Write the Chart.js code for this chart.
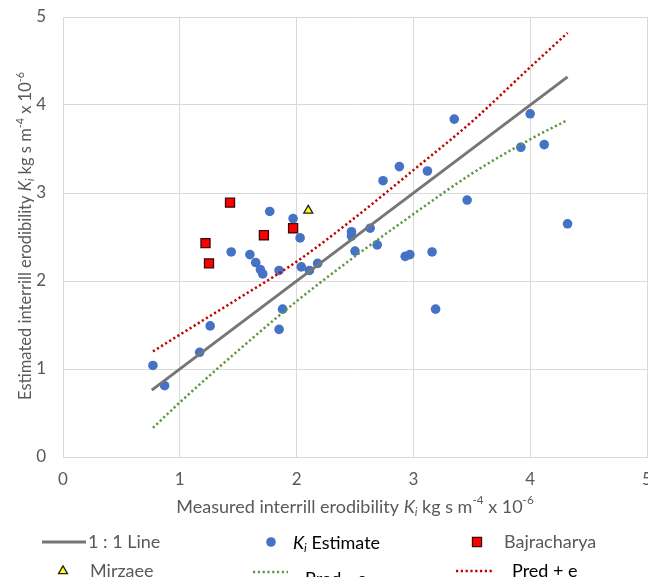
<!DOCTYPE html>
<html>
<head>
<meta charset="utf-8">
<script src="https://cdn.jsdelivr.net/npm/chart.js@4.4.1/dist/chart.umd.min.js"></script>
<style>
  html, body { margin: 0; padding: 0; background: #fff; }
  .wrap { width: 648px; height: 577px; overflow: hidden; }
</style>
</head>
<body>
<div class="wrap"><canvas id="chart" width="700" height="577"></canvas></div>
<script>
// tick labels on both axes
var tickValues = [0, 1, 2, 3, 4, 5];

// Ki estimate: measured (x) vs estimated (y)
var kiMeasured = [0.77, 0.87, 1.17, 1.26, 1.44, 1.60, 1.65, 1.69, 1.71, 1.77, 1.85, 1.85, 1.88,
  1.97, 2.03, 2.04, 2.11, 2.18, 2.47, 2.47, 2.50, 2.63, 2.69, 2.74, 2.88, 2.93, 2.97, 3.12,
  3.16, 3.19, 3.35, 3.46, 3.92, 4.00, 4.12, 4.32];
var kiEstimated = [1.04, 0.81, 1.19, 1.49, 2.33, 2.30, 2.21, 2.13, 2.08, 2.79, 2.12, 1.45, 1.68,
  2.71, 2.49, 2.16, 2.12, 2.20, 2.56, 2.51, 2.34, 2.60, 2.41, 3.14, 3.30, 2.28, 2.30, 3.25,
  2.33, 1.68, 3.84, 2.92, 3.52, 3.90, 3.55, 2.65];

var bajMeasured = [1.22, 1.25, 1.43, 1.72, 1.97];
var bajEstimated = [2.43, 2.20, 2.89, 2.52, 2.60];

var mirMeasured = [2.10];
var mirEstimated = [2.80];

var lineX = [0.76, 4.32];
var lineY = [0.76, 4.32];

var predX = [0.77, 1.0, 1.5, 2.0, 2.5, 3.0, 3.5, 4.0, 4.32];
var predMinus = [0.33, 0.62, 1.21, 1.77, 2.28, 2.76, 3.22, 3.61, 3.83];
var predPlus = [1.20, 1.39, 1.80, 2.22, 2.72, 3.26, 3.81, 4.43, 4.82];

var FONT = "Lato, 'Open Sans', sans-serif";
var GREY = "#595959";

function pts(xs, ys) {
  return xs.map(function (x, i) { return { x: x, y: ys[i] }; });
}

// draws text made of pieces (italic / subscript / superscript)
function richWidth(ctx, parts, size) {
  var w = 0;
  parts.forEach(function (p) {
    var s = (p.sub || p.sup) ? size * 0.65 : size;
    ctx.font = (p.italic ? "italic " : "") + s + "px " + FONT;
    w += ctx.measureText(p.t).width;
  });
  return w;
}
function drawRich(ctx, parts, x, y, size, color, align) {
  var w = richWidth(ctx, parts, size);
  var cx = align === "center" ? x - w / 2 : x;
  ctx.textBaseline = "middle";
  ctx.textAlign = "left";
  parts.forEach(function (p) {
    var s = (p.sub || p.sup) ? size * 0.65 : size;
    var dy = p.sub ? size * 0.3 : (p.sup ? -size * 0.35 : 0);
    ctx.font = (p.italic ? "italic " : "") + s + "px " + FONT;
    ctx.fillStyle = p.color || color;
    ctx.fillText(p.t, cx, y + dy);
    cx += ctx.measureText(p.t).width;
  });
}

var xTitle = [{ t: "Measured interrill erodibility " }, { t: "K", italic: true }, { t: "i", italic: true, sub: true },
  { t: " kg s m" }, { t: "-4", sup: true }, { t: " x 10" }, { t: "-6", sup: true }];
var yTitle = [{ t: "Estimated interrill erodibility " }, { t: "K", italic: true }, { t: "i", italic: true, sub: true },
  { t: " kg s m" }, { t: "-4", sup: true }, { t: " x 10" }, { t: "-6", sup: true }];

var titlesPlugin = {
  id: "titles",
  afterDraw: function (chart) {
    var ctx = chart.ctx, a = chart.chartArea;
    ctx.save();
    drawRich(ctx, xTitle, (a.left + a.right) / 2, 507, 18, GREY, "center");
    ctx.translate(26, 236);
    ctx.rotate(-Math.PI / 2);
    drawRich(ctx, yTitle, 0, 0, 16.5, GREY, "center");
    ctx.restore();
  }
};

function drawMarker(ctx, ds, x, y) {
  var r = ds.pointRadius;
  ctx.fillStyle = ds.backgroundColor;
  ctx.strokeStyle = ds.borderColor;
  ctx.lineWidth = ds.borderWidth;
  ctx.beginPath();
  if (ds.pointStyle === "rect") {
    var s = r * Math.SQRT1_2;
    ctx.rect(x - s, y - s, 2 * s, 2 * s);
  } else if (ds.pointStyle === "triangle") {
    ctx.moveTo(x, y - r);
    ctx.lineTo(x + r * 0.866, y + r * 0.5);
    ctx.lineTo(x - r * 0.866, y + r * 0.5);
    ctx.closePath();
  } else {
    ctx.arc(x, y, r, 0, Math.PI * 2);
  }
  ctx.fill();
  if (ds.borderWidth) ctx.stroke();
}
function drawSample(ctx, ds, x1, x2, y) {
  ctx.strokeStyle = ds.borderColor;
  ctx.lineWidth = ds.borderWidth;
  ctx.setLineDash(ds.borderDash || []);
  ctx.beginPath();
  ctx.moveTo(x1, y);
  ctx.lineTo(x2, y);
  ctx.stroke();
  ctx.setLineDash([]);
}

var legendItems = [
  { ds: 0, kind: "line", x1: 42, x2: 86, y: 542, tx: 88, ty: 542, text: [{ t: "1 : 1 Line" }], color: GREY },
  { ds: 3, kind: "point", x1: 271, y: 542, tx: 293, ty: 543, text: [{ t: "K", italic: true }, { t: "i", italic: true, sub: true }, { t: " Estimate" }], color: "#000" },
  { ds: 4, kind: "point", x1: 477, y: 542, tx: 504, ty: 542, text: [{ t: "Bajracharya" }], color: GREY },
  { ds: 5, kind: "point", x1: 63, y: 571, tx: 90, ty: 571, text: [{ t: "Mirzaee" }], color: GREY },
  { ds: 1, kind: "line", x1: 253, x2: 288, y: 572, tx: 305, ty: 579, text: [{ t: "Pred - e" }], color: "#000" },
  { ds: 2, kind: "line", x1: 456, x2: 494, y: 571, tx: 512, ty: 571, text: [{ t: "Pred + e" }], color: "#000" }
];

var legendPlugin = {
  id: "bottomLegend",
  afterDraw: function (chart) {
    var ctx = chart.ctx;
    ctx.save();
    legendItems.forEach(function (it) {
      var ds = chart.data.datasets[it.ds];
      if (it.kind === "line") drawSample(ctx, ds, it.x1, it.x2, it.y);
      else drawMarker(ctx, ds, it.x1, it.y);
      drawRich(ctx, it.text, it.tx, it.ty, 18, it.color, "left");
    });
    ctx.restore();
  }
};

var axisCommon = {
  type: "linear",
  min: 0,
  max: 5,
  grid: { color: "#d9d9d9", lineWidth: 1, drawTicks: false },
  border: { color: "#d9d9d9" },
  ticks: {
    stepSize: 1,
    color: GREY,
    font: { family: FONT, size: 17 },
    callback: function (v) { return tickValues.indexOf(v) >= 0 ? String(v) : ""; }
  }
};

new Chart(document.getElementById("chart"), {
  type: "scatter",
  data: {
    datasets: [
      {
        type: "line", label: "1 : 1 Line", data: pts(lineX, lineY),
        borderColor: "#767676", borderWidth: 3, pointRadius: 0, fill: false, order: 1
      },
      {
        type: "line", label: "Pred - e", data: pts(predX, predMinus),
        borderColor: "#5f9640", borderWidth: 2.5, borderDash: [2.2, 2.6], pointRadius: 0,
        fill: false, cubicInterpolationMode: "monotone", order: 1
      },
      {
        type: "line", label: "Pred + e", data: pts(predX, predPlus),
        borderColor: "#c00000", borderWidth: 2.5, borderDash: [2.2, 2.6], pointRadius: 0,
        fill: false, cubicInterpolationMode: "monotone", order: 1
      },
      {
        label: "Ki Estimate", data: pts(kiMeasured, kiEstimated),
        backgroundColor: "#4472c4", borderColor: "#4472c4", borderWidth: 0,
        pointRadius: 4.8, pointStyle: "circle", order: 2
      },
      {
        label: "Bajracharya", data: pts(bajMeasured, bajEstimated),
        backgroundColor: "#ff0000", borderColor: "#3a0a0a", borderWidth: 1.3,
        pointRadius: 6.4, pointStyle: "rect", order: 2
      },
      {
        label: "Mirzaee", data: pts(mirMeasured, mirEstimated),
        backgroundColor: "#ffff00", borderColor: "#222", borderWidth: 1.3,
        pointRadius: 5.2, pointStyle: "triangle", order: 2
      }
    ]
  },
  options: {
    responsive: false,
    animation: false,
    layout: { padding: { left: 0, top: 17, right: 53, bottom: 0 } },
    plugins: { legend: { display: false }, tooltip: { enabled: false } },
    scales: {
      x: Object.assign({}, axisCommon, {
        ticks: Object.assign({}, axisCommon.ticks, { padding: 12 }),
        afterFit: function (s) { s.height = 120; s.paddingLeft = 0; s.paddingRight = 0; }
      }),
      y: Object.assign({}, axisCommon, {
        ticks: Object.assign({}, axisCommon.ticks, { padding: 17 }),
        afterFit: function (s) { s.width = 63; s.paddingTop = 0; s.paddingBottom = 0; }
      })
    }
  },
  plugins: [titlesPlugin, legendPlugin]
});
</script>
</body>
</html>
